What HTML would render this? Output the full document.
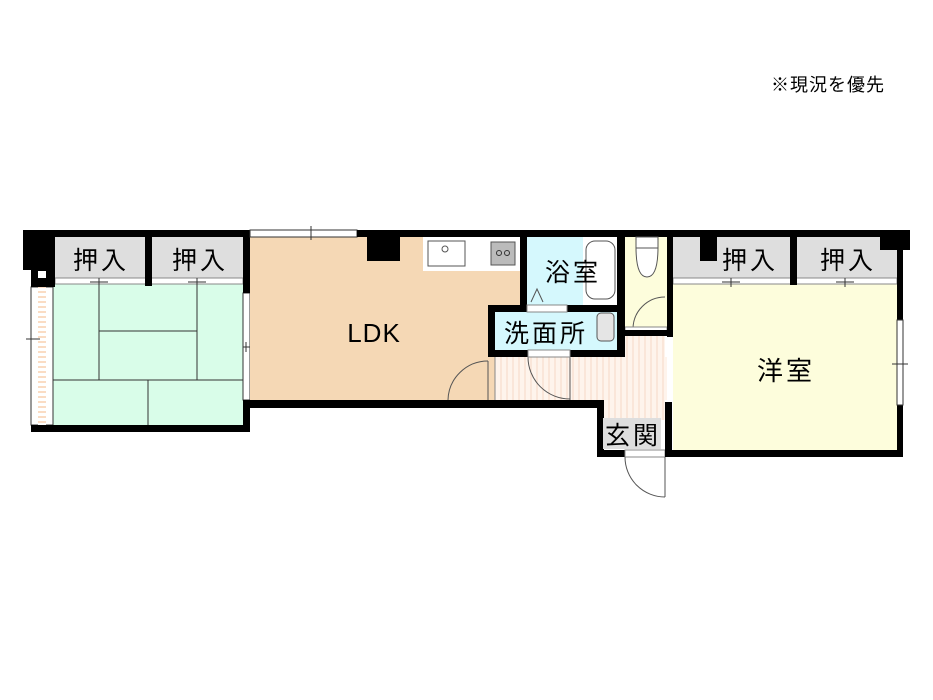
<!DOCTYPE html>
<html><head><meta charset="utf-8"><style>
html,body{margin:0;padding:0;background:#fff;}
svg{display:block}
text{font-family:"Liberation Sans","Noto Sans CJK JP",sans-serif;fill:#000;}
.j{font-size:25px;letter-spacing:3px}
</style></head><body>
<svg width="933" height="700" viewBox="0 0 933 700" xmlns="http://www.w3.org/2000/svg">
<defs>
<pattern id="st" width="6" height="6" patternUnits="userSpaceOnUse"><rect width="6" height="6" fill="#fef4ec"/><line x1="3" y1="0" x2="3" y2="6" stroke="#f7d9c6" stroke-width="1"/></pattern>
<pattern id="hs" width="6" height="5" patternUnits="userSpaceOnUse"><rect width="6" height="5" fill="#fff"/><line x1="0" y1="2" x2="6" y2="2" stroke="#f4b98a" stroke-width="1"/></pattern>
</defs>
<text x="828" y="91" font-size="18" letter-spacing="1" text-anchor="middle">※現況を優先</text>

<rect x="53" y="284" width="190" height="141" fill="#d9fde9"/>
<g stroke="#333" stroke-width="1" fill="none">
<line x1="99" y1="284" x2="99" y2="380"/><line x1="197" y1="284" x2="197" y2="380"/>
<line x1="99" y1="331" x2="197" y2="331"/><line x1="53" y1="380" x2="243" y2="380"/>
<line x1="148" y1="380" x2="148" y2="425"/>
</g>
<rect x="31" y="287" width="22" height="138" fill="#fff" stroke="#333" stroke-width="1"/>
<rect x="38" y="287" width="8" height="138" fill="url(#hs)"/>
<line x1="26" y1="339" x2="40" y2="339" stroke="#333"/>
<rect x="243" y="293" width="7" height="107" fill="#fff" stroke="#333" stroke-width="1"/>
<line x1="243" y1="347" x2="252" y2="347" stroke="#333"/><line x1="246" y1="342" x2="246" y2="352" stroke="#333"/>
<rect x="55" y="237" width="90" height="41" fill="#dedede"/>
<rect x="152" y="237" width="91" height="41" fill="#dedede"/>
<rect x="55" y="278" width="188" height="6" fill="#fff" stroke="#888" stroke-width="1"/>
<line x1="99" y1="278" x2="99" y2="287" stroke="#333"/><line x1="90" y1="282" x2="108" y2="282" stroke="#333"/>
<line x1="197" y1="278" x2="197" y2="287" stroke="#333"/><line x1="188" y1="282" x2="206" y2="282" stroke="#333"/>
<text x="101" y="269" class="j" text-anchor="middle">押入</text>
<text x="200" y="269" class="j" text-anchor="middle">押入</text>
<rect x="23" y="230" width="227" height="7" fill="#000"/>
<rect x="23" y="230" width="32" height="40" fill="#000"/>
<rect x="31" y="270" width="24" height="17" fill="#000"/>
<rect x="38" y="271" width="8" height="7" fill="#fff"/>
<rect x="145" y="237" width="7" height="49" fill="#000"/>
<rect x="243" y="230" width="7" height="63" fill="#000"/>
<rect x="31" y="425" width="219" height="7" fill="#000"/>
<rect x="243" y="400" width="7" height="32" fill="#000"/>

<rect x="250" y="237" width="270" height="163" fill="#f5d8b5"/>
<rect x="250" y="230" width="107" height="7" fill="#fff" stroke="#333" stroke-width="1"/>
<line x1="311" y1="226" x2="311" y2="240" stroke="#333"/>
<rect x="357" y="230" width="163" height="7" fill="#000"/>
<rect x="367" y="237" width="33" height="24" fill="#000"/>
<rect x="423" y="237" width="97" height="34" fill="#fff"/>
<rect x="428" y="241" width="37" height="25" fill="#fff" stroke="#555"/>
<circle cx="445" cy="249" r="3" fill="none" stroke="#555"/>
<rect x="491" y="242" width="24" height="23" fill="#bbb" stroke="#555"/>
<circle cx="499" cy="253" r="2.5" fill="none" stroke="#333"/><circle cx="507" cy="253" r="2.5" fill="none" stroke="#333"/>
<text x="374" y="342" font-size="26" letter-spacing="1" text-anchor="middle">LDK</text>
<rect x="527" y="237" width="56" height="68" fill="#d5f8fd"/>
<rect x="583" y="237" width="35" height="68" fill="#fff"/>
<rect x="586" y="241" width="29" height="58" rx="9" fill="#fff" stroke="#555"/>
<rect x="520" y="230" width="7" height="82" fill="#000"/>
<rect x="617" y="230" width="8" height="75" fill="#000"/>
<rect x="527" y="230" width="98" height="7" fill="#000"/>
<polyline points="531,302 537,289 543,302" fill="none" stroke="#555"/>
<text x="573" y="281" class="j" text-anchor="middle">浴室</text>
<rect x="625" y="237" width="42" height="93" fill="#fdfddc"/>
<rect x="625" y="230" width="42" height="7" fill="#000"/>
<path d="M636 237 h22 v10 q0 30 -11 30 q-11 0 -11 -30z" fill="#fff" stroke="#555"/>
<rect x="636" y="237" width="22" height="11" fill="#fff" stroke="#555"/>
<path d="M665 297 A32 32 0 0 0 633 329" fill="none" stroke="#555"/>
<rect x="625" y="327" width="42" height="5" fill="#fff" stroke="#888"/>
<rect x="495" y="357" width="172" height="43" fill="url(#st)"/>
<rect x="570" y="335" width="95" height="70" fill="url(#st)"/>
<rect x="604" y="400" width="61" height="20" fill="url(#st)"/>
<line x1="495" y1="357" x2="495" y2="400" stroke="#888"/>
<path d="M488 361 A40 40 0 0 0 448 400" fill="none" stroke="#555"/>
<line x1="488" y1="361" x2="488" y2="400" stroke="#555"/>
<path d="M528 357 A42 42 0 0 0 570 399" fill="none" stroke="#555"/>
<line x1="570" y1="357" x2="570" y2="400" stroke="#555"/>
<rect x="488" y="305" width="137" height="52" fill="#000"/>
<rect x="495" y="312" width="122" height="38" fill="#d5f8fd"/>
<rect x="527" y="305" width="40" height="7" fill="#fff" stroke="#888"/>
<rect x="528" y="350" width="42" height="7" fill="#fff" stroke="#888"/>
<rect x="597" y="313" width="17" height="28" rx="4" fill="#e5e5e5" stroke="#555"/>
<text x="546" y="342" class="j" text-anchor="middle">洗面所</text>
<rect x="617" y="330" width="50" height="6" fill="#000"/>
<rect x="243" y="400" width="361" height="8" fill="#000"/>
<rect x="597" y="400" width="7" height="57" fill="#000"/>
<rect x="597" y="450" width="75" height="7" fill="#000"/>
<rect x="603" y="418" width="58" height="31" fill="#dedede"/>
<text x="633" y="444" class="j" text-anchor="middle">玄関</text>
<rect x="625" y="450" width="40" height="7" fill="#fff" stroke="#888"/>
<path d="M625 457 A40 40 0 0 0 665 497" fill="none" stroke="#555"/>
<line x1="665" y1="457" x2="665" y2="497" stroke="#555"/>
<rect x="673" y="284" width="224" height="166" fill="#fdfddc"/>
<rect x="673" y="237" width="117" height="41" fill="#dedede"/>
<rect x="797" y="237" width="100" height="41" fill="#dedede"/>
<rect x="673" y="278" width="224" height="6" fill="#fff" stroke="#888"/>
<line x1="731" y1="278" x2="731" y2="287" stroke="#333"/><line x1="722" y1="282" x2="740" y2="282" stroke="#333"/>
<line x1="845" y1="278" x2="845" y2="287" stroke="#333"/><line x1="836" y1="282" x2="854" y2="282" stroke="#333"/>
<rect x="667" y="230" width="243" height="7" fill="#000"/>
<rect x="700" y="237" width="17" height="24" fill="#000"/>
<rect x="880" y="230" width="30" height="20" fill="#000"/>
<rect x="790" y="237" width="7" height="48" fill="#000"/>
<rect x="897" y="237" width="6" height="220" fill="#000"/>
<rect x="897" y="320" width="6" height="85" fill="#fff" stroke="#333"/>
<line x1="892" y1="364" x2="908" y2="364" stroke="#333"/>
<rect x="667" y="237" width="6" height="100" fill="#000"/>
<rect x="665" y="402" width="7" height="55" fill="#000"/>
<rect x="667" y="450" width="236" height="7" fill="#000"/>
<text x="750" y="269" class="j" text-anchor="middle">押入</text>
<text x="848" y="269" class="j" text-anchor="middle">押入</text>
<text x="786" y="380" font-size="26" letter-spacing="3" text-anchor="middle">洋室</text>
</svg>
</body></html>
